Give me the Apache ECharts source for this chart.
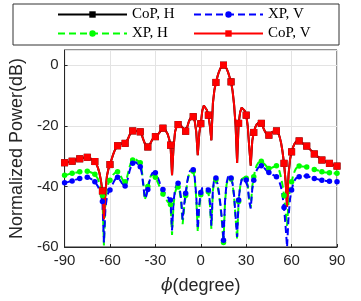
<!DOCTYPE html>
<html>
<head>
<meta charset="utf-8">
<script src="https://cdn.jsdelivr.net/npm/echarts@6/dist/echarts.min.js"></script>
<style>html,body{margin:0;padding:0;background:#fff;}#chart{width:361px;height:301px;}</style>
</head>
<body>
<div id="chart"></div>
<script>
// Angle sampling (degrees), one value per degree from -90 to 90
const angleStart = -90;
const angleEnd = 90;
const markerEvery = 5;

const xTicks = [-90, -60, -30, 0, 30, 60, 90];
const yTicks = [-60, -40, -20, 0];

const seriesNames = ['CoP, H', 'XP, H', 'XP, V', 'CoP, V'];

// CoP, V (red) in dB, -90..90 deg
const copV = [
-32.2,-32.1,-32.0,-31.9,-31.8,-31.7,-31.5,-31.3,-31.1,-31.0,
-30.9,-30.8,-30.6,-30.5,-30.4,-30.4,-30.5,-30.7,-31.0,-31.3,
-31.8,-32.6,-33.8,-35.5,-38.0,-41.5,-50.8,-42.0,-36.5,-34.2,
-32.8,-31.2,-29.6,-28.3,-27.3,-26.6,-26.2,-25.9,-25.8,-25.8,
-25.8,-25.2,-24.2,-23.0,-22.2,-21.7,-21.5,-21.6,-21.8,-21.9,
-22.0,-23.0,-24.5,-25.8,-26.7,-27.0,-26.5,-25.5,-24.5,-23.9,
-23.6,-23.3,-22.7,-22.0,-21.3,-20.8,-20.9,-21.5,-22.6,-24.2,
-26.4,-36.3,-27.0,-22.0,-20.2,-19.6,-19.5,-19.9,-20.6,-21.3,
-21.8,-20.5,-18.8,-17.6,-17.0,-17.0,-18.5,-22.0,-29.7,-22.5,
-19.3,-15.0,-13.3,-13.5,-14.8,-16.5,-20.0,-24.8,-12.5,-8.2,
-5.7,-3.8,-2.2,-1.0,-0.2,0.0,-0.3,-1.1,-2.3,-3.9,
-5.5,-8.5,-13.0,-20.0,-32.3,-19.2,-15.5,-14.0,-14.0,-15.0,
-16.5,-20.0,-27.0,-33.2,-25.0,-22.2,-20.5,-19.5,-18.9,-18.7,
-19.2,-20.3,-21.5,-22.4,-22.9,-23.1,-22.8,-22.2,-21.8,-21.6,
-21.7,-22.3,-23.5,-25.5,-28.5,-32.4,-38.0,-46.7,-36.0,-31.0,
-28.6,-27.0,-25.9,-25.2,-24.9,-25.0,-25.3,-25.7,-26.1,-26.4,
-26.7,-27.2,-27.7,-28.2,-28.8,-29.3,-29.7,-30.1,-30.5,-30.9,
-31.3,-31.5,-31.7,-31.9,-32.2,-32.4,-32.6,-32.8,-33.0,-33.2,
-33.3
];

// CoP, H (black) lies exactly under the red curve in the picture
const copH = copV.slice();

// XP, V (blue) in dB
const xpV = [
-38.8,-38.7,-38.6,-38.5,-38.3,-38.2,-38.0,-37.9,-37.7,-37.5,
-37.4,-37.3,-37.2,-37.1,-37.0,-37.0,-37.1,-37.4,-37.7,-38.1,
-38.5,-39.2,-40.0,-41.2,-42.8,-45.0,-58.5,-47.0,-43.5,-42.0,
-41.2,-40.2,-39.0,-38.0,-37.3,-37.0,-37.4,-38.2,-39.0,-39.6,
-39.9,-39.0,-37.0,-34.8,-33.2,-32.4,-32.0,-32.0,-32.3,-32.8,
-33.5,-35.5,-39.5,-44.0,-43.2,-41.0,-38.5,-36.6,-35.6,-35.3,
-35.5,-36.3,-37.6,-38.9,-40.0,-41.0,-42.0,-42.8,-43.5,-44.0,
-44.5,-54.5,-45.0,-41.0,-39.5,-39.0,-40.5,-44.0,-51.0,-46.0,
-42.3,-38.5,-36.0,-34.8,-34.3,-34.5,-37.0,-43.0,-54.0,-46.0,
-42.0,-40.5,-40.0,-40.2,-40.6,-41.2,-45.0,-53.0,-41.0,-37.0,
-37.2,-39.0,-42.0,-46.0,-51.0,-57.8,-45.0,-39.0,-36.8,-36.8,
-37.2,-39.0,-43.0,-50.0,-56.7,-44.5,-40.0,-37.8,-37.4,-37.6,
-37.9,-40.0,-45.0,-47.3,-41.0,-38.0,-36.0,-34.6,-33.8,-33.3,
-33.2,-33.5,-34.0,-34.6,-35.1,-35.4,-35.7,-36.0,-36.3,-36.6,
-36.8,-37.5,-38.6,-40.2,-43.0,-47.0,-53.0,-60.0,-50.0,-44.0,
-41.2,-39.3,-38.0,-37.3,-36.9,-36.8,-36.7,-36.6,-36.6,-36.6,
-36.6,-36.7,-36.9,-37.1,-37.2,-37.4,-37.5,-37.6,-37.8,-37.9,
-38.0,-38.1,-38.1,-38.2,-38.2,-38.3,-38.3,-38.4,-38.4,-38.5,
-38.5
];

// XP, H (green) in dB
const xpH = [
-36.3,-36.2,-36.1,-36.0,-35.8,-35.7,-35.6,-35.5,-35.4,-35.3,
-35.2,-35.1,-35.0,-35.0,-35.0,-35.0,-35.1,-35.3,-35.5,-35.7,
-36.0,-36.6,-37.5,-38.8,-40.5,-43.0,-59.5,-45.0,-41.0,-39.0,
-38.0,-37.0,-36.2,-35.6,-35.2,-35.2,-35.6,-36.5,-37.5,-38.3,
-38.5,-37.5,-35.5,-33.5,-32.0,-31.3,-31.0,-31.1,-31.4,-31.8,
-32.2,-34.5,-39.0,-44.5,-42.5,-40.0,-38.0,-36.5,-36.0,-36.2,
-37.0,-38.0,-39.2,-40.3,-41.5,-42.5,-43.3,-44.2,-45.0,-45.6,
-46.0,-56.0,-46.0,-42.0,-40.5,-40.2,-41.5,-45.0,-52.5,-47.0,
-43.0,-39.0,-36.4,-35.2,-34.8,-35.0,-37.5,-44.0,-55.0,-47.0,
-42.8,-41.2,-40.6,-40.8,-41.2,-41.8,-46.0,-54.0,-41.5,-37.5,
-37.8,-39.6,-42.6,-46.6,-52.0,-58.5,-45.5,-39.5,-37.3,-37.2,
-37.6,-39.4,-43.5,-50.5,-57.5,-45.0,-40.2,-37.6,-37.0,-37.0,
-37.3,-39.5,-44.5,-47.0,-40.0,-36.8,-34.5,-33.0,-32.2,-31.8,
-31.7,-32.1,-32.6,-33.2,-33.7,-34.1,-34.1,-33.9,-33.6,-33.3,
-33.2,-33.8,-35.0,-37.0,-39.5,-43.0,-48.0,-53.0,-45.0,-40.5,
-38.5,-36.5,-35.0,-34.0,-33.5,-33.3,-33.3,-33.4,-33.5,-33.5,
-33.6,-33.8,-33.9,-34.1,-34.2,-34.4,-34.6,-34.7,-34.9,-35.0,
-35.2,-35.3,-35.3,-35.4,-35.5,-35.5,-35.6,-35.6,-35.7,-35.7,
-35.7
];

const angles = [];
for (let a = angleStart; a <= angleEnd; a++) angles.push(a);
function pairs(vals) { return angles.map((a, i) => [a, vals[i]]); }

const chart = echarts.init(document.getElementById('chart'), null, { renderer: 'canvas' });

const axisColor = '#262626';
const gridColor = '#e3e3e3';
const sansFont = 'Liberation Sans';

function markerSize(size) {
  return function (val) { return (val[0] % markerEvery === 0) ? size : 0; };
}

function lineSeries(name, vals, color, dashed, symbol, size) {
  return {
    name: name,
    type: 'line',
    data: pairs(vals),
    symbol: symbol,
    symbolSize: markerSize(size),
    showSymbol: true,
    smooth: false,
    lineStyle: { color: color, width: 2, type: dashed ? [7, 4] : 'solid' },
    itemStyle: { color: color, borderWidth: 0 },
    emphasis: { disabled: true },
    animation: false
  };
}

chart.setOption({
  animation: false,
  backgroundColor: '#ffffff',
  legend: {
    orient: 'vertical',
    left: 13,
    top: 4,
    height: 45,
    padding: [3, 14, 4, 44],
    itemGap: 4,
    itemWidth: 69,
    itemHeight: 8,
    borderColor: '#333333',
    borderWidth: 1,
    backgroundColor: '#ffffff',
    data: ['CoP, H', 'XP, H', 'XP, V', 'CoP, V'],
    textStyle: { fontFamily: 'Liberation Serif', fontSize: 15, color: '#000', lineHeight: 15, width: 57 }
  },
  grid: {
    left: 52, right: 24, top: 50, bottom: 54,
    show: true, borderColor: axisColor, borderWidth: 1, backgroundColor: 'transparent'
  },
  xAxis: {
    type: 'value',
    min: xTicks[0], max: xTicks[xTicks.length - 1], interval: 30,
    name: '{i|ϕ}(degree)',
    nameLocation: 'middle',
    nameGap: 30,
    nameTextStyle: {
      fontFamily: sansFont, fontSize: 18, color: axisColor,
      rich: { i: { fontFamily: 'DejaVu Serif', fontStyle: 'italic', fontSize: 17, color: axisColor } }
    },
    axisLine: { onZero: false, lineStyle: { color: axisColor, width: 1 } },
    axisTick: { inside: true, length: 3, lineStyle: { color: axisColor } },
    axisLabel: { fontFamily: sansFont, fontSize: 15, color: axisColor, margin: 6 },
    splitLine: { show: true, lineStyle: { color: gridColor, width: 1 } }
  },
  yAxis: {
    type: 'value',
    min: yTicks[0], max: 5, interval: 20,
    name: 'Normalized Power(dB)',
    nameLocation: 'middle',
    nameGap: 30,
    nameTextStyle: { fontFamily: sansFont, fontSize: 18, color: axisColor },
    axisLine: { show: true, onZero: false, lineStyle: { color: axisColor, width: 1 } },
    axisTick: { show: true, inside: true, length: 3, lineStyle: { color: axisColor } },
    axisLabel: { fontFamily: sansFont, fontSize: 15, color: axisColor, margin: 6, showMaxLabel: false },
    splitLine: { show: true, lineStyle: { color: gridColor, width: 1 } }
  },
  series: [
    lineSeries(seriesNames[0], copH, '#000000', false, 'rect', 7),
    lineSeries(seriesNames[1], xpH, '#00ff00', true, 'circle', 5.5),
    lineSeries(seriesNames[2], xpV, '#0000ff', true, 'circle', 5.5),
    lineSeries(seriesNames[3], copV, '#ff0000', false, 'rect', 7)
  ]
});
</script>
</body>
</html>
